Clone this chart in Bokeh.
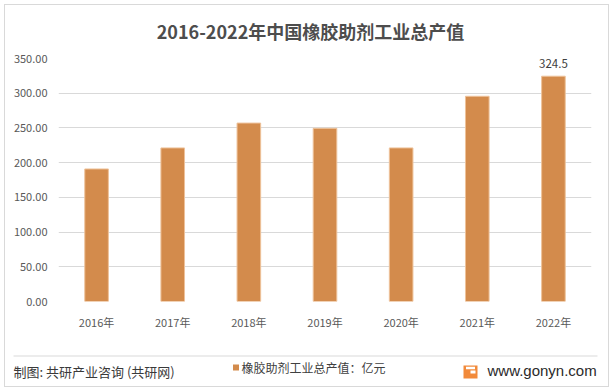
from bokeh.plotting import figure
from bokeh.models import (Range1d, FactorRange, FixedTicker, NumeralTickFormatter,
                          LabelSet, ColumnDataSource)
from bokeh.layouts import column
from bokeh.embed import file_html
from bokeh.resources import INLINE
from bokeh.core.properties import value

# ---- data ----
years = ["2016年", "2017年", "2018年", "2019年", "2020年", "2021年", "2022年"]
output_value = [190.9, 221.2, 257.0, 249.4, 221.2, 295.6, 324.5]
y_ticks = [0, 50, 100, 150, 200, 250, 300, 350]
label_years = ["2022年"]
label_values = [324.5]
title_text = "2016-2022年中国橡胶助剂工业总产值"
series_name = "橡胶助剂工业总产值：亿元"
source_text = "制图: 共研产业咨询 (共研网)"
site_text = "www.gonyn.com"

CJK = "Noto Sans CJK SC"
BAR = "#D38B4C"
GRID = "#D9D9D9"
TICK = "#595959"


def blank_panel(h):
    fig = figure(width=603, height=h, x_range=Range1d(0, 603), y_range=Range1d(h, 0),
                 output_backend="svg", toolbar_location=None, min_border=0,
                 min_border_left=0, min_border_right=0, min_border_top=0, min_border_bottom=0,
                 x_axis_location=None, y_axis_location=None)
    fig.frame_align = False
    fig.grid.visible = False
    fig.outline_line_color = None
    fig.background_fill_color = "white"
    fig.border_fill_color = "white"
    return fig


# ---- header (title) ----
h = blank_panel(40)
h.text(x=[305], y=[25], text=[title_text], text_font=value(CJK), text_font_size="18px",
       text_font_style="bold", text_baseline="middle", text_align="center",
       text_color="#4D4D4D")

# ---- main chart ----
p = figure(width=603, height=300, x_range=FactorRange(*years), y_range=Range1d(0, 350),
           output_backend="svg", toolbar_location=None,
           min_border_left=53, min_border_right=17, min_border_top=13, min_border_bottom=44)
p.outline_line_color = None
p.background_fill_color = "white"
p.border_fill_color = "white"
p.frame_align = False

src = ColumnDataSource(dict(x=years, top=output_value))
p.vbar(x="x", top="top", width=0.31, source=src,
       fill_color=BAR, line_color="#EEC29A", line_width=1)

p.yaxis.ticker = FixedTicker(ticks=y_ticks)
p.yaxis.formatter = NumeralTickFormatter(format="0.00")
p.ygrid.grid_line_color = GRID
p.xgrid.grid_line_color = None

for ax in (p.xaxis, p.yaxis):
    ax.axis_line_color = None
    ax.major_tick_line_color = None
    ax.minor_tick_line_color = None
    ax.major_tick_out = 0
    ax.major_tick_in = 0
    ax.minor_tick_out = 0
    ax.major_label_text_font = CJK
    ax.major_label_text_font_size = "11px"
    ax.major_label_text_color = TICK
p.yaxis.major_label_standoff = 11
p.xaxis.major_label_standoff = 12

lab_src = ColumnDataSource(dict(x=label_years, y=label_values,
                                t=[f"{v:.1f}" for v in label_values]))
p.add_layout(LabelSet(x="x", y="y", text="t", source=lab_src, text_align="center",
                      text_baseline="middle", y_offset=13, text_font=value(CJK),
                      text_font_size=value("11.5px"), text_color="#404040"))

# ---- footer ----
f = blank_panel(41)
f.segment(x0=[8], y0=[10.5], x1=[592], y1=[10.5], line_color=GRID, line_width=1)
f.text(x=[8], y=[26], text=[source_text], text_font=value(CJK), text_font_size="13px",
       text_baseline="middle", text_align="left", text_color="#3A3A3A")
f.rect(x=[230.5], y=[22], width=6, height=6, fill_color=BAR, line_color=None)
f.text(x=[236], y=[22], text=[series_name], text_font=value(CJK), text_font_size="12px",
       text_baseline="middle", text_align="left", text_color="#404040")
# logo
f.rect(x=[465], y=[26.5], width=14, height=13, fill_color="#F28A3A", line_color=None)
f.rect(x=[467.5], y=[26.5], width=5, height=3, fill_color="white", line_color=None)
f.rect(x=[465], y=[22.5], width=9, height=2.5, fill_color="white", line_color=None)
f.text(x=[482], y=[25], text=[site_text], text_font=value("Liberation Sans"),
       text_font_size="15px", text_baseline="middle", text_align="left", text_color="#2A2A2A")

layout = column(h, p, f, spacing=0,
                styles={"margin-left": "4px", "margin-top": "4px",
                        "border": "1px solid #D9D9D9"})

open("out.html", "w").write(file_html(layout, INLINE))
